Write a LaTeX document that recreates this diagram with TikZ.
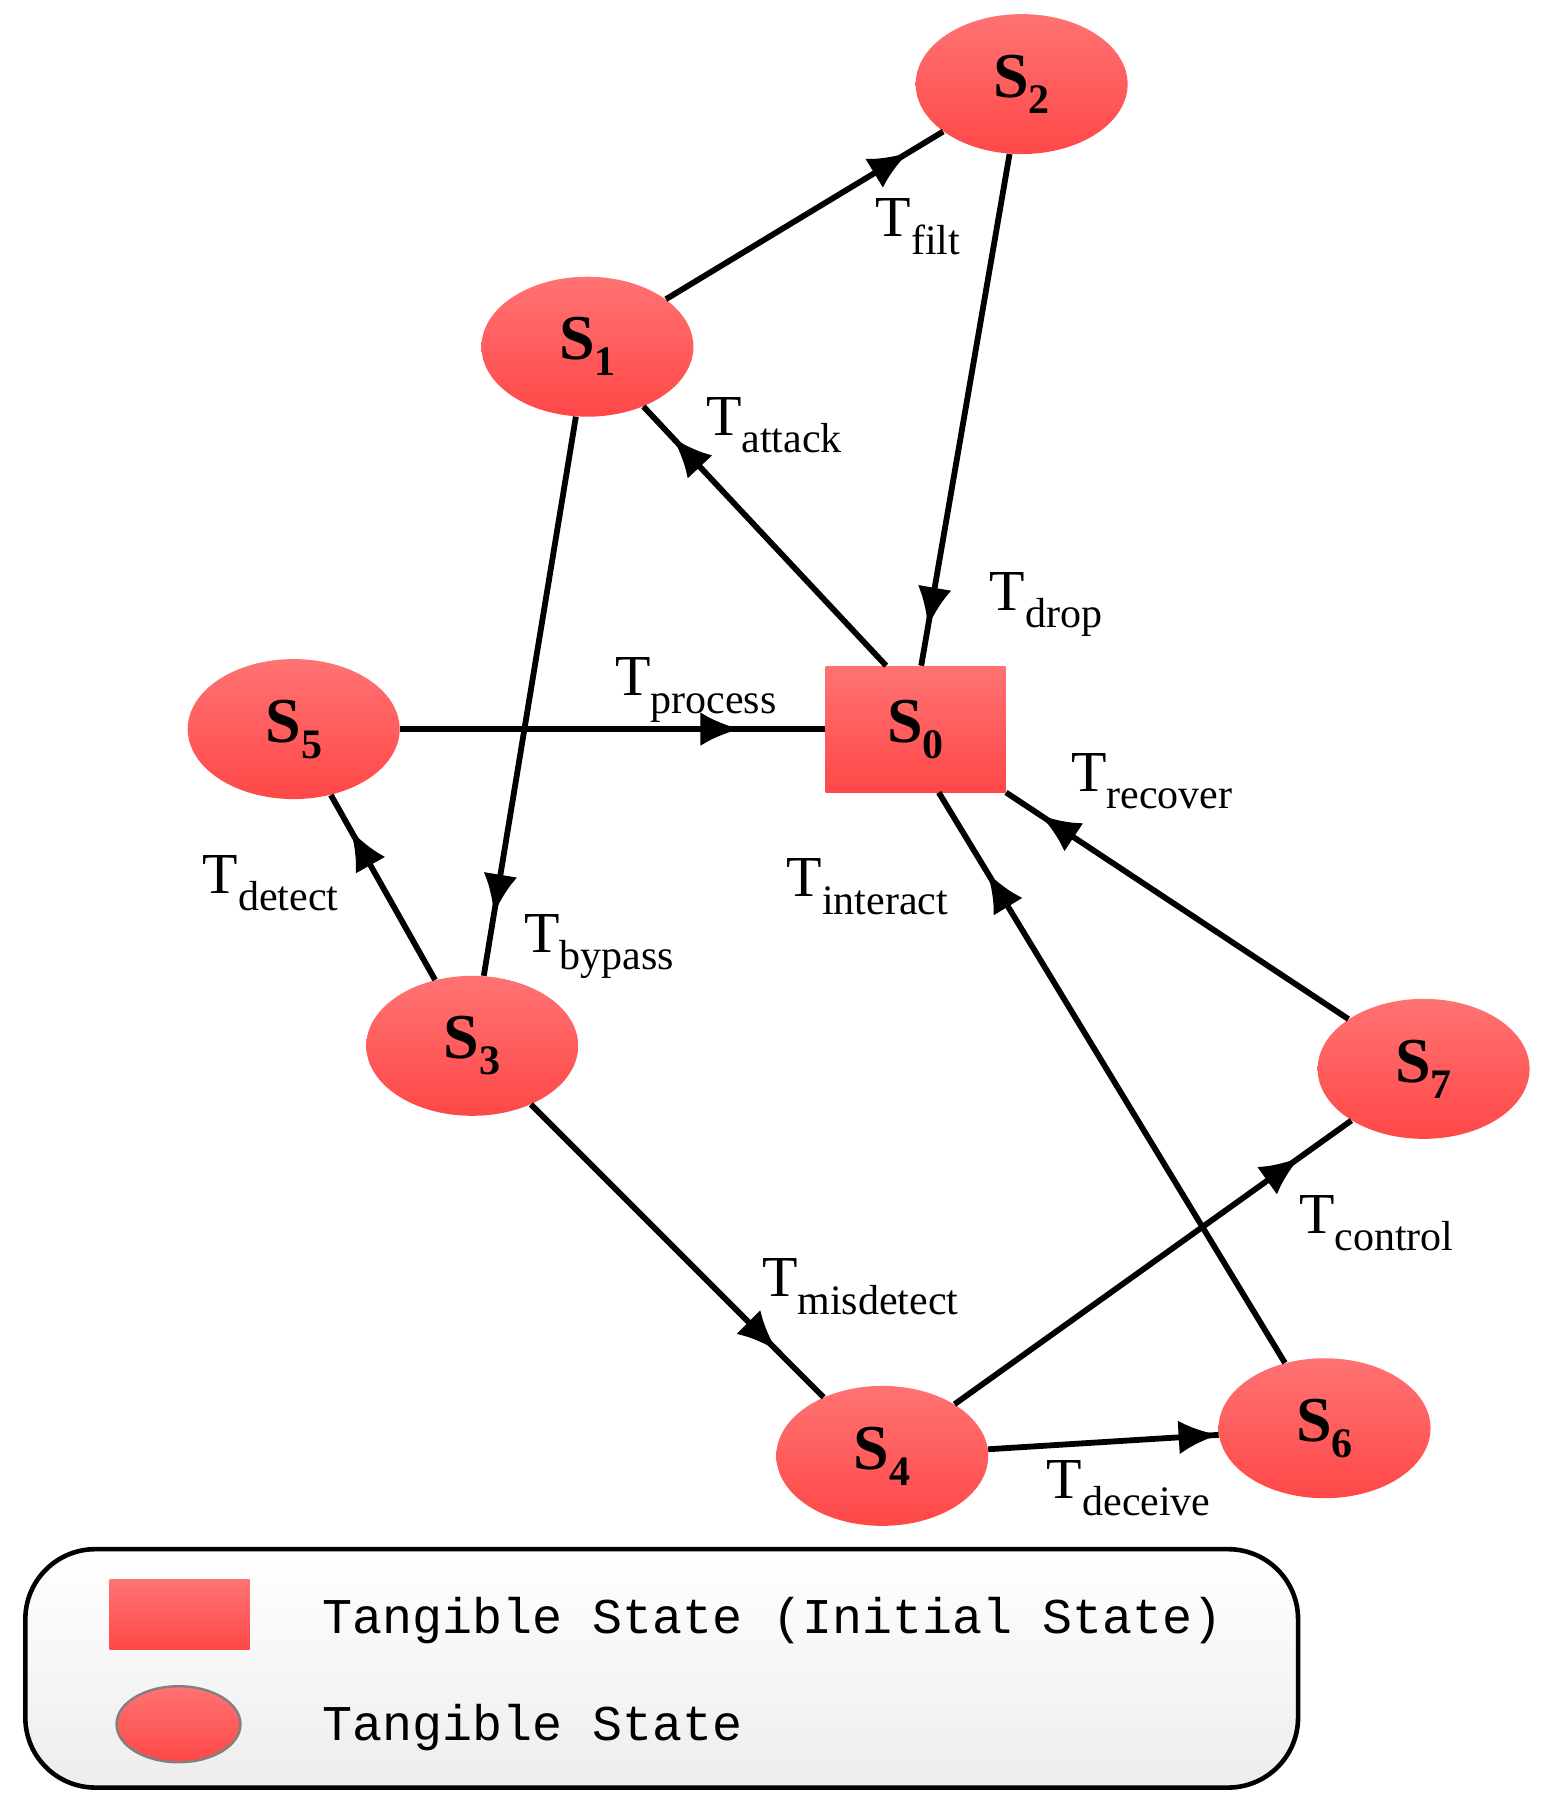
\documentclass[tikz,border=0pt]{standalone}
\usepackage{fontspec}
\setmainfont{Liberation Serif}
\newfontfamily\monofont{Liberation Mono}
\usetikzlibrary{arrows.meta,decorations.markings,shapes.geometric}
\begin{document}
\begin{tikzpicture}[x=0.576pt,y=-0.576pt,
  st/.style={ellipse,minimum width=106pt,minimum height=70pt,inner sep=0pt,top color=red!55!white!100,bottom color=red!72,draw=none,font=\fontsize{32}{32}\selectfont\bfseries},
  init/.style={rectangle,minimum width=90pt,minimum height=63pt,inner sep=0pt,top color=red!55!white,bottom color=red!72,font=\fontsize{32}{32}\selectfont\bfseries},
  lab/.style={font=\fontsize{29}{29}\selectfont,inner sep=0pt},
  ed/.style={line width=2.9pt,postaction={decorate},decoration={markings,mark=at position #1 with {\arrow{Latex[length=20pt,width=17pt]}}}},
]
\useasboundingbox (0,0) rectangle (1350,1568);
\newcommand{\sn}[1]{S\raisebox{-0.25em}{\fontsize{21}{21}\selectfont #1}}
\newcommand{\tn}[1]{T\raisebox{-0.3em}{\fontsize{21}{21}\selectfont #1}}
\node[init] (s0) at (795,633) {\sn{0}};
\node[st] (s1) at (510,301) {\sn{1}};
\node[st] (s2) at (887,73) {\sn{2}};
\node[st] (s3) at (410,908) {\sn{3}};
\node[st] (s4) at (766,1264) {\sn{4}};
\node[st] (s5) at (255,633) {\sn{5}};
\node[st] (s6) at (1150,1240) {\sn{6}};
\node[st] (s7) at (1236,928) {\sn{7}};
\draw[ed=0.875] (s1) -- (s2);
\draw[ed=0.88] (s0.115) -- (s1);
\draw[ed=0.925] (s2) -- (s0.85);
\draw[ed=0.8] (s5) -- (s0);
\draw[ed=0.9] (s7) -- (s0.south east);
\draw[ed=0.86] (s6) -- (s0.-70);
\draw[ed=0.89] (s1) -- (s3);
\draw[ed=0.81] (s3) -- (s5);
\draw[ed=0.84] (s3) -- (s4);
\draw[ed=0.87] (s4) -- (s7);
\draw[ed=1] (s4) -- (s6);
\node[lab] (tf) at (797,197) {\tn{filt}};
\node[lab] (ta) at (672,369) {\tn{attack}};
\node[lab] (td) at (908,525) {\tn{drop}};
\node[lab] (tp) at (604,599) {\tn{process}};
\node[lab] (tr) at (1000,678) {\tn{recover}};
\node[lab] (ti) at (753,770) {\tn{interact}};
\node[lab] (tde) at (235,767) {\tn{detect}};
\node[lab] (tb) at (520,822) {\tn{bypass}};
\node[lab] (tc) at (1195,1062) {\tn{control}};
\node[lab] (tm) at (747,1117) {\tn{misdetect}};
\node[lab] (tdc) at (980,1292) {\tn{deceive}};
\draw[line width=2.3pt,rounded corners=35pt,top color=white,bottom color=black!7] (22,1345) rectangle (1127,1552);
\node[rectangle,minimum width=70pt,minimum height=35pt,inner sep=0pt,top color=red!55!white,bottom color=red!72] (lr) at (156,1402) {};
\node[ellipse,minimum width=62pt,minimum height=38pt,inner sep=0pt,top color=red!55!white,bottom color=red!72,draw=gray,line width=1.2pt] (le) at (155,1497) {};
\node[anchor=west,inner sep=0pt,font=\monofont\fontsize{25}{25}\selectfont] (l1) at (280,1407) {Tangible State (Initial State)};
\node[anchor=west,inner sep=0pt,font=\monofont\fontsize{25}{25}\selectfont] (l2) at (280,1500) {Tangible State};
\end{tikzpicture}
\end{document}
